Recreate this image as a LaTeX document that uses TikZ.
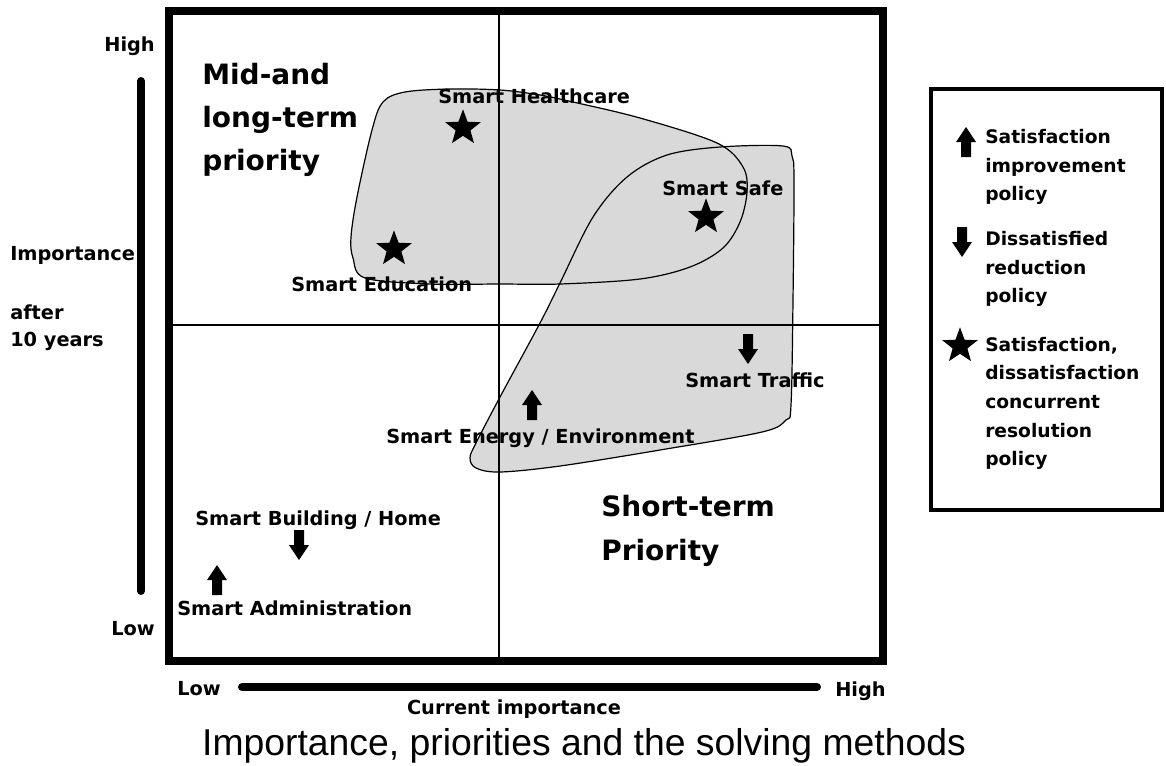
\documentclass[tikz,border=0pt]{standalone}
\usepackage{fontspec}
\setmainfont{Liberation Sans}
\newfontfamily\labfont{DejaVu Sans}
\usetikzlibrary{shapes.geometric}
\definecolor{blobgray}{HTML}{D9D9D9}
\tikzset{
  lab/.style={font=\labfont\bfseries\fontsize{14.5}{17}\selectfont, inner sep=0pt, anchor=base west},
  big/.style={font=\labfont\bfseries\fontsize{21}{25}\selectfont, inner sep=0pt, anchor=base west},
  leg/.style={font=\labfont\bfseries\fontsize{14}{17}\selectfont, inner sep=0pt, anchor=base west},
  starmark/.style={star, star points=5, star point ratio=2.4, fill=black, minimum size=28pt, inner sep=0pt},
  blobline/.style={draw=black, line width=0.9pt},
  uparr/.pic={\fill[black] (-5,15) -- (-5,0) -- (-10,0) -- (0,-15) -- (10,0) -- (5,0) -- (5,15) -- cycle;},
  downarr/.pic={\fill[black] (-5,-15) -- (-5,0) -- (-10,0) -- (0,15) -- (10,0) -- (5,0) -- (5,-15) -- cycle;}
}
\begin{document}
\begin{tikzpicture}[x=0.75pt,y=-0.75pt]
\useasboundingbox (0,0) rectangle (1166,765);
% blobs fill
\def\blobA{plot[smooth cycle, tension=0.55] coordinates {(383,102) (405,92) (450,89) (500,90) (540,95) (573,102) (640,118) (717,143) (743,167) (747,192) (740,222) (723,248) (690,267) (640,279) (560,284) (500,284) (430,284) (365,278) (353,258) (351,237) (357,197) (372,130)}}
\def\blobB{plot[smooth cycle, tension=0.55] coordinates {(720,147) (783,146) (792,156) (794,180) (793,300) (791,405) (786,420) (762,432) (660,450) (560,466) (500,472) (476,468) (470,458) (476,443) (500,397) (540,323) (560,283) (593,217) (627,177) (667,155)}}
\fill[blobgray] \blobA;
\fill[blobgray] \blobB;
% quadrant lines
\draw[line width=1pt] (499,11) -- (499,661);
\draw[line width=1pt] (169,325) -- (883,325);
\draw[blobline] \blobA;
\draw[blobline] \blobB;
% frame
\draw[line width=6pt] (169,11) rectangle (883,661);
% axes bars
\draw[line width=6pt, line cap=round] (141,81) -- (141,591);
\draw[line width=6pt, line cap=round] (242,687) -- (817,687);
% axis labels
\node[lab, anchor=base east] (hy) at (155,51) {High};
\node[lab, anchor=base east] (ly) at (155,635) {Low};
\node[lab] (imp) at (10,260) {Importance};
\node[lab] (aft) at (10,319) {after};
\node[lab] (ten) at (10,346) {10 years};
\node[lab] (lx) at (177,695) {Low};
\node[lab] (hx) at (835,696) {High};
\node[lab, anchor=base] (cur) at (514,714) {Current importance};
% quadrant titles
\node[big] (mid1) at (202,84) {Mid-and};
\node[big] (mid2) at (202,127) {long-term};
\node[big] (mid3) at (202,170) {priority};
\node[big] (sh1) at (601,516) {Short-term};
\node[big] (sh2) at (601,560) {Priority};
% items
\node[starmark] (s1) at (463,128) {};
\node[starmark] (s2) at (394,249) {};
\node[starmark] (s3) at (706,217) {};
\node[lab] (t1) at (438,103) {Smart Healthcare};
\node[lab] (t2) at (291,291) {Smart Education};
\node[lab] (t3) at (662,195) {Smart Safe};
\node[lab] (t4) at (685,387) {Smart Traffic};
\node[lab] (t5) at (386,443) {Smart Energy / Environment};
\node[lab] (t6) at (195,525) {Smart Building / Home};
\node[lab] (t7) at (177,615) {Smart Administration};
\pic at (748,349) {downarr};
\pic at (532,405) {uparr};
\pic at (299,545) {downarr};
\pic at (217,580) {uparr};
% legend
\draw[line width=2.5pt] (931,89) rectangle (1162,510);
\pic at (966,142) {uparr};
\pic at (962,242) {downarr};
\node[starmark] (s4) at (960,346) {};
\node[leg] (l1a) at (985,143) {Satisfaction};
\node[leg] (l1b) at (985,172) {improvement};
\node[leg] (l1c) at (985,200) {policy};
\node[leg] (l2a) at (985,245) {Dissatisfied};
\node[leg] (l2b) at (985,274) {reduction};
\node[leg] (l2c) at (985,302) {policy};
\node[leg] (l3a) at (985,351) {Satisfaction,};
\node[leg] (l3b) at (985,379) {dissatisfaction};
\node[leg] (l3c) at (985,408) {concurrent};
\node[leg] (l3d) at (985,437) {resolution};
\node[leg] (l3e) at (985,465) {policy};
% caption
\node[font=\fontsize{28}{32}\selectfont, anchor=base, inner sep=0pt] (cap) at (584,755) {Importance, priorities and the solving methods};
\end{tikzpicture}
\end{document}
